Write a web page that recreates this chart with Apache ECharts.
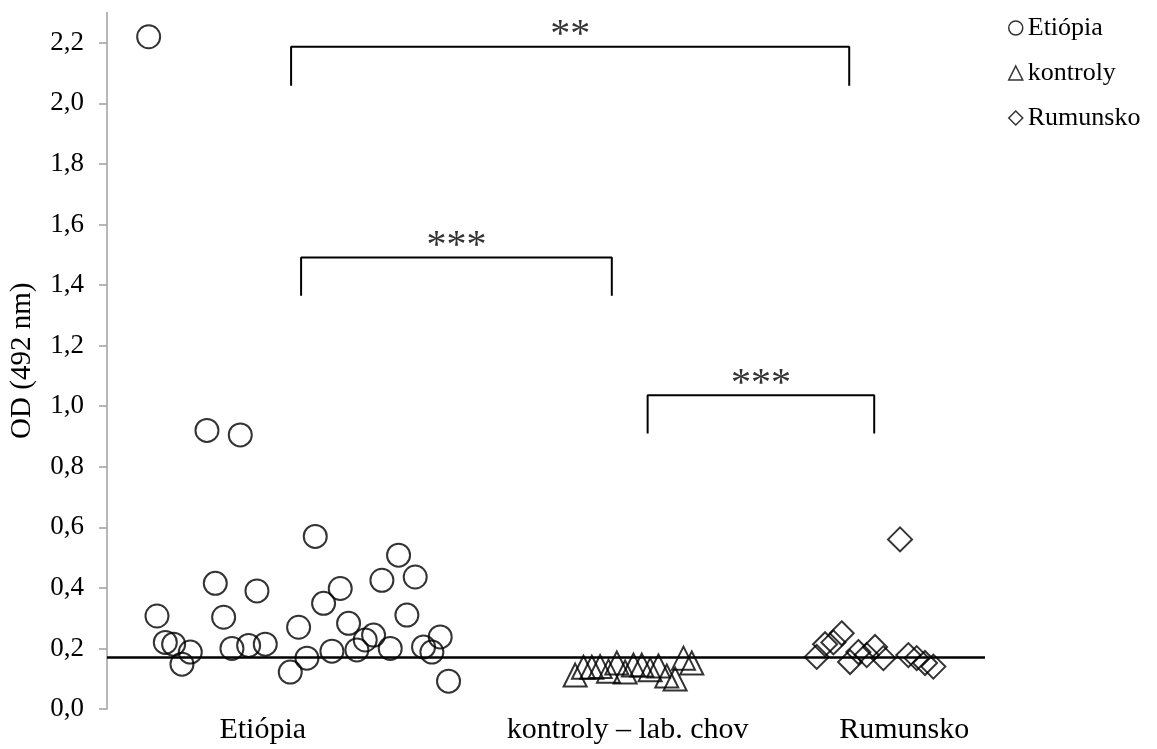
<!DOCTYPE html>
<html><head><meta charset="utf-8">
<script src="https://cdn.jsdelivr.net/npm/echarts@6/dist/echarts.min.js"></script>
<style>html,body{margin:0;padding:0;background:#fff}#c{width:1157px;height:749px}</style>
</head><body><div id="c"></div>
<script>
// ---- data ----
const categories = ['Etiópia', 'kontroly – lab. chov', 'Rumunsko'];
const categoryX = [18.7, 62.5, 95.7];
const legendNames = ['Etiópia', 'kontroly', 'Rumunsko'];

const ethiopiaX = [5,6,7,8,9,10,12,13,14,15,16,17,18,19,22,23,24,25,26,27,28,29,30,31,32,33,34,35,36,37,38,39,40,41];
const ethiopiaY = [2.22,0.307,0.22,0.214,0.148,0.188,0.92,0.415,0.303,0.20,0.905,0.21,0.39,0.214,0.122,0.27,0.168,0.57,0.349,0.191,0.398,0.283,0.195,0.228,0.244,0.425,0.20,0.508,0.31,0.436,0.205,0.188,0.238,0.092];

const controlX = [56.2,57.2,58.2,59.2,60.2,61.2,62.2,63.2,64.2,65.2,66.2,67.2,68.2,69.2,70.2];
const controlY = [0.112,0.138,0.138,0.14,0.125,0.152,0.122,0.145,0.145,0.13,0.142,0.109,0.099,0.168,0.152];

const romaniaX = [85.2,86.2,87.2,88.2,89.2,90.2,91.2,92.2,93.2,95.2,96.2,97.2,98.2,99.2];
const romaniaY = [0.172,0.214,0.22,0.25,0.155,0.188,0.178,0.205,0.168,0.56,0.178,0.168,0.152,0.14];

const cutoff = 0.17;
const yTicks = [0,0.2,0.4,0.6,0.8,1.0,1.2,1.4,1.6,1.8,2.0,2.2];

const sigFrom   = [22.1, 23.3, 64.9];
const sigTo     = [89.1, 60.6, 92.1];
const sigTop    = [2.187, 1.491, 1.036];
const sigBottom = [2.058, 1.365, 0.910];
const sigLabel  = ['**', '***', '***'];

// ---- chart ----
const X_MAX = 105.4;
const serif = 'Liberation Serif';
const chart = echarts.init(document.getElementById('c'));

const pts = (xs, ys) => xs.map((x, i) => [x, ys[i]]);
const markerStyle = { color: 'rgba(0,0,0,0)', borderColor: '#000', borderWidth: 2 };

const series = [
  { name: legendNames[0], type: 'scatter', symbol: 'circle', symbolSize: 23, itemStyle: markerStyle, data: pts(ethiopiaX, ethiopiaY), z: 3 },
  { name: legendNames[1], type: 'scatter', symbol: 'triangle', symbolSize: 23, itemStyle: markerStyle, data: pts(controlX, controlY), z: 3 },
  { name: legendNames[2], type: 'scatter', symbol: 'diamond', symbolSize: 24, itemStyle: markerStyle, data: pts(romaniaX, romaniaY), z: 3 },
  { name: 'cutoff', type: 'line', symbol: 'none', silent: true, lineStyle: { color: '#000', width: 2.5 },
    data: [[0, cutoff], [X_MAX, cutoff]], z: 2 }
];
sigFrom.forEach((f, i) => {
  series.push({ name: 'sig' + i, type: 'line', symbol: 'none', silent: true,
    lineStyle: { color: '#000', width: 2 },
    data: [[f, sigBottom[i]], [f, sigTop[i]], [sigTo[i], sigTop[i]], [sigTo[i], sigBottom[i]]] });
});
series.push({ name: 'sigText', type: 'scatter', symbolSize: 0, silent: true,
  data: sigFrom.map((f, i) => ({ value: [(f + sigTo[i]) / 2, sigTop[i]], txt: sigLabel[i] })),
  label: { show: true, position: 'inside', offset: [0, -11], color: '#000', fontFamily: serif, fontSize: 40,
    formatter: p => p.data.txt } });

chart.setOption({
  animation: false,
  backgroundColor: '#fff',
  grid: { left: 107, right: 172, top: 12.5, bottom: 40 },
  legend: {
    orient: 'vertical', left: 1003, top: 10, itemWidth: 14, itemHeight: 14, itemGap: 19,
    data: legendNames, itemStyle: { borderWidth: 1.5 },
    textStyle: { fontFamily: serif, fontSize: 26, color: '#000' }
  },
  xAxis: {
    type: 'value', min: 0, max: X_MAX,
    axisLine: { show: false }, axisTick: { show: false }, splitLine: { show: false },
    axisLabel: {
      customValues: categoryX, margin: 6, color: '#000', fontFamily: serif, fontSize: 30,
      formatter: v => { let b = 0; categoryX.forEach((c, i) => { if (Math.abs(c - v) < Math.abs(categoryX[b] - v)) b = i; }); return categories[b]; }
    }
  },
  yAxis: {
    type: 'value', min: 0, max: 2.3,
    name: 'OD (492 nm)', nameLocation: 'middle', nameRotate: 90, nameGap: 70,
    nameTextStyle: { fontFamily: serif, fontSize: 29, color: '#000' },
    axisLine: { show: true, lineStyle: { color: '#a0a0a0', width: 1.5 } },
    axisTick: { show: true, inside: false, length: 8, customValues: yTicks, lineStyle: { color: '#a0a0a0', width: 1.5 } },
    splitLine: { show: false },
    axisLabel: { customValues: yTicks, margin: 23, color: '#000', fontFamily: serif, fontSize: 27,
      formatter: v => v.toFixed(1).replace('.', ',') }
  },
  series
});
</script></body></html>
